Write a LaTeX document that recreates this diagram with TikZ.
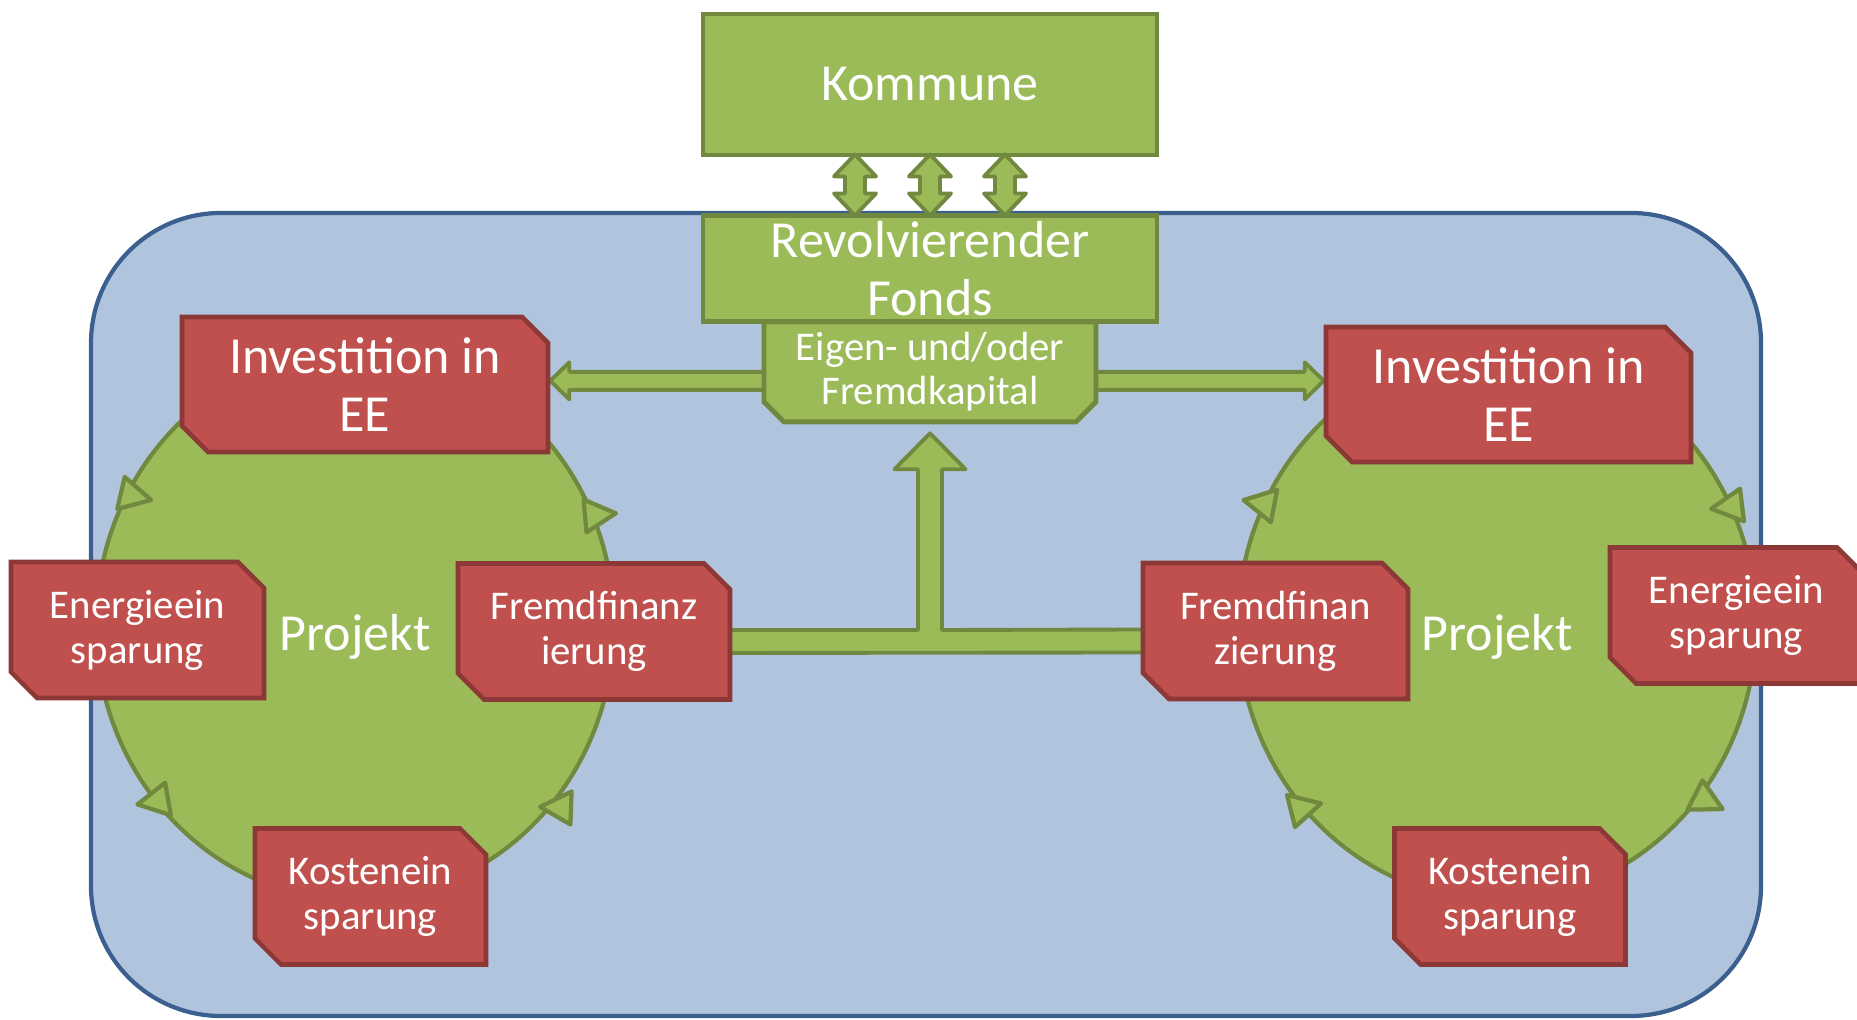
\documentclass[tikz,border=0pt]{standalone}
\usepackage{fontspec}
\setmainfont{Carlito}
\usepackage{tikz}
\usetikzlibrary{shapes.geometric, shapes.misc, arrows.meta, positioning, calc, backgrounds}
\definecolor{fondgreen}{HTML}{9BBB59}
\definecolor{fondgreenline}{HTML}{71893F}
\definecolor{eered}{HTML}{C0504D}
\definecolor{eeredline}{HTML}{8C3836}
\definecolor{poolblue}{HTML}{B0C4DE}
\definecolor{poolblueline}{HTML}{3B5F8E}
\tikzset{
  % Text
  bigtext/.style={font=\fontsize{14.8}{16.5}\selectfont},
  smalltext/.style={font=\fontsize{11.6}{12.8}\selectfont},
  % Boxes
  greenbox/.style={rectangle, draw=fondgreenline, fill=fondgreen, line width=1.4pt, text=white, inner sep=0pt, align=center},
  capitalbox/.style={chamfered rectangle, chamfered rectangle corners={south west, south east}, chamfered rectangle xsep=0.10cm, chamfered rectangle ysep=0.10cm, draw=fondgreenline, fill=fondgreen, line width=1.4pt, text=white, inner sep=0pt, align=center, font=\fontsize{11.6}{12.5}\selectfont},
  eebox/.style={chamfered rectangle, chamfered rectangle corners={north east, south west}, chamfered rectangle xsep=0.13cm, chamfered rectangle ysep=0.13cm, draw=eeredline, fill=eered, line width=1.3pt, text=white, inner sep=0pt, align=center, minimum height=1.36cm},
  projcircle/.style={ellipse, draw=fondgreenline, fill=fondgreen, line width=1.2pt, minimum width=5.18cm, minimum height=5.5cm, inner sep=0pt, text=white, bigtext, text height=0.62cm, text depth=0.1cm},
  cyclehead/.style={draw=fondgreenline, fill=fondgreen, line width=1.2pt, line join=round},
  poolbox/.style={draw=poolblueline, fill=poolblue, line width=1.2pt, rounded corners=1.3cm},
  arrowbody/.style={draw=fondgreenline, fill=fondgreen, line width=1.1pt, line join=round},
}
% block arrow: start, tip, half shaft, half head, head length
\newcommand{\blockarrow}[5]{%
  \coordinate (fa-b) at ($(#2)!#5!(#1)$);
  \draw[arrowbody] ($(#1)!#3!90:(#2)$) -- ($(fa-b)!#3!-90:(#1)$) -- ($(fa-b)!#4!-90:(#1)$) -- (#2)
    -- ($(fa-b)!#4!90:(#1)$) -- ($(fa-b)!#3!90:(#1)$) -- ($(#1)!#3!-90:(#2)$) -- cycle;
}
\newcommand{\dblblockarrow}[5]{%
  \coordinate (fa-a) at ($(#1)!#5!(#2)$);
  \coordinate (fa-b) at ($(#2)!#5!(#1)$);
  \draw[arrowbody] (#1) -- ($(fa-a)!#4!90:(#2)$) -- ($(fa-a)!#3!90:(#2)$) -- ($(fa-b)!#3!-90:(#1)$)
    -- ($(fa-b)!#4!-90:(#1)$) -- (#2) -- ($(fa-b)!#4!90:(#1)$) -- ($(fa-b)!#3!90:(#1)$)
    -- ($(fa-a)!#3!-90:(#2)$) -- ($(fa-a)!#4!-90:(#2)$) -- cycle;
}
\begin{document}
\begin{tikzpicture}
  \useasboundingbox (0,0) rectangle (18.57,10.20);
  % Kommune and fund
  \node[greenbox, bigtext, minimum width=4.54cm, minimum height=1.41cm] (kommune) at (9.30,9.355) {Kommune};
  \node[greenbox, bigtext, minimum width=4.54cm, minimum height=1.06cm, below=0.56cm of kommune] (fonds) {Revolvierender\\Fonds};
  \node[capitalbox, minimum width=3.32cm, minimum height=1.0cm, below=-0.05cm of fonds] (eigen) {Eigen- und/oder\\Fremdkapital};
  % Left project
  \node[eebox, bigtext, minimum width=3.66cm, minimum height=1.35cm] (invl) at (3.65,6.355) {Investition in\\EE};
  \node[eebox, smalltext, minimum width=2.53cm] (enl) at (1.375,3.90) {Energieein\\sparung};
  \node[eebox, smalltext, minimum width=2.72cm] (ffl) at (5.94,3.885) {Fremdfinanz\\ierung};
  \node[eebox, smalltext, minimum width=2.31cm] (kol) at (3.705,1.235) {Kostenein\\sparung};
  % Right project
  \node[eebox, bigtext, minimum width=3.65cm, minimum height=1.35cm] (invr) at (15.085,6.255) {Investition in\\EE};
  \node[eebox, smalltext, minimum width=2.65cm] (ffr) at (12.755,3.89) {Fremdfinan\\zierung};
  \node[eebox, smalltext, minimum width=2.53cm] (enr) at (17.365,4.045) {Energieein\\sparung};
  \node[eebox, smalltext, minimum width=2.31cm] (kor) at (15.10,1.235) {Kostenein\\sparung};
  % Kommune <-> fund
  \foreach \dx in {-0.75,0,0.75} {
    \coordinate (up) at ($(kommune.south)+(\dx,0.03)$);
    \coordinate (dn) at ($(fonds.north)+(\dx,-0.02)$);
    \dblblockarrow{up}{dn}{0.10cm}{0.21cm}{0.22cm}
  }
  \begin{scope}[on background layer]
    % Pool
    \draw[poolbox] (0.91,0.04) rectangle (17.61,8.07);
    % Project cycles
    \node[projcircle] (projl) at (3.55,3.95) {Projekt};
    \node[projcircle] (projr) at (14.97,3.95) {Projekt};
    \foreach \x/\y/\a in {1.21/5.27/-13, 5.85/5.04/5, 1.68/2.21/190, 5.71/2.12/178,
                          12.74/5.14/169, 17.42/5.15/187, 12.91/2.09/14, 16.95/2.25/-27} {
      \draw[cyclehead, shift={(\x,\y)}, rotate=\a] (0,-0.165) -- (0.31,0) -- (0,0.165) -- cycle;
    }
    % Capital to investments
    \coordinate (kl) at ($(eigen.west)+(0.1,-0.09)$);
    \coordinate (kr) at ($(eigen.east)+(-0.1,-0.09)$);
    \coordinate (kl-tip) at (kl -| invl.east);
    \coordinate (kr-tip) at (kr -| invr.west);
    \blockarrow{kl}{kl-tip}{0.09cm}{0.185cm}{0.19cm}
    \blockarrow{kr}{kr-tip}{0.09cm}{0.185cm}{0.19cm}
    % Back flow from loans
    \coordinate (bl) at ($(ffl.east)+(-0.1,-0.1)$);
    \coordinate (br) at ($(ffr.west)+(0.1,-0.1)$);
    \coordinate (tt) at ($(eigen.south)+(0,-0.09)$);
    \coordinate (tb) at (tt |- bl);
    \draw[arrowbody] ($(bl)+(0,-0.115)$) -- ($(br)+(0,-0.115)$) -- ($(br)+(0,0.115)$)
      -- ($(tb)+(0.12,0.115)$) -- ($(tt)+(0.12,-0.36)$) -- ($(tt)+(0.355,-0.36)$) -- (tt)
      -- ($(tt)+(-0.355,-0.36)$) -- ($(tt)+(-0.12,-0.36)$) -- ($(tb)+(-0.12,0.115)$)
      -- ($(bl)+(0,0.115)$) -- cycle;
  \end{scope}
\end{tikzpicture}
\end{document}
